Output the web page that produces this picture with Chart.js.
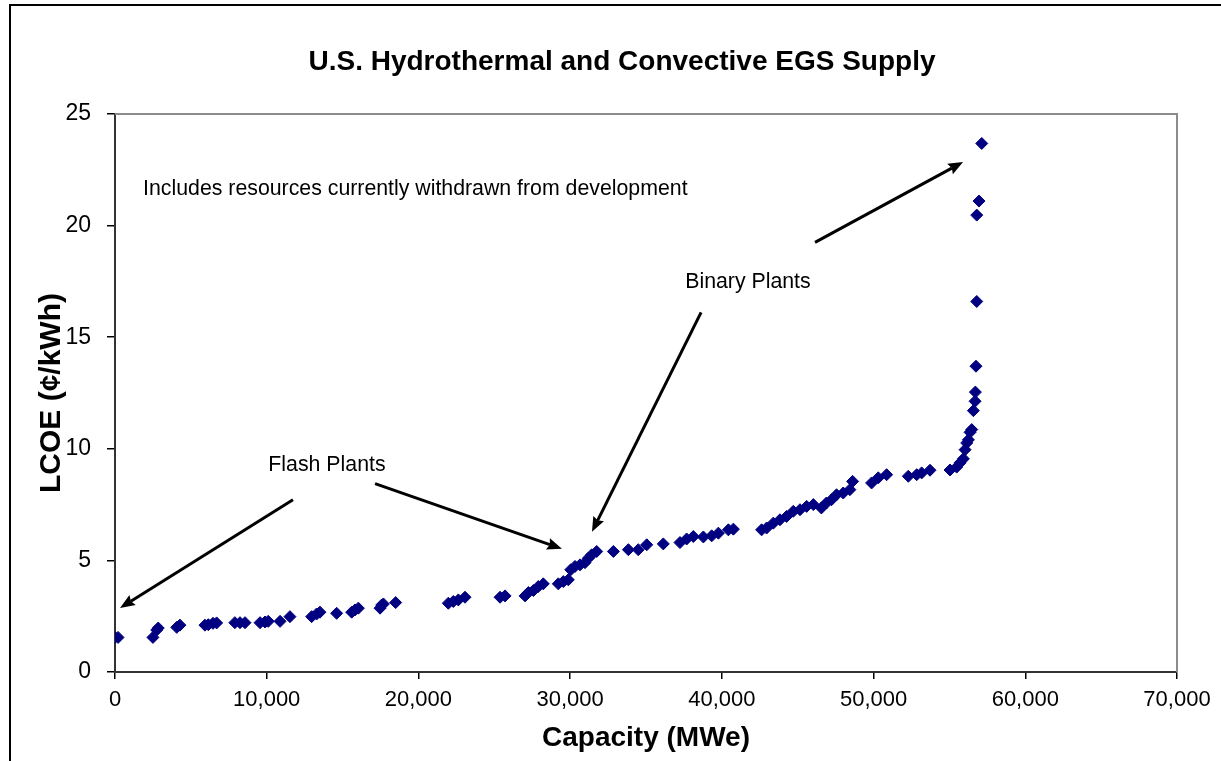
<!DOCTYPE html>
<html>
<head>
<meta charset="utf-8">
<script src="https://cdn.jsdelivr.net/npm/chart.js@4"></script>
<style>
  html, body { margin: 0; padding: 0; background: #fff; }
  #wrap { width: 1221px; height: 761px; position: relative; }
</style>
</head>
<body>
<div id="wrap"><canvas id="supplyChart"></canvas></div>
<script>
// dados
const chartTitle = 'U.S. Hydrothermal and Convective EGS Supply';
const xTitle = 'Capacity (MWe)';
const yTitle = 'LCOE (\u00A2/kWh)';

const capacity = [
  0, 200, 2500, 2750, 2850, 4070, 4280, 5930, 6150, 6460,
  6700, 7900, 8240, 8570, 9560, 9890, 10100, 10880, 11530, 12960,
  13290, 13510, 14610, 15600, 15820, 16040, 17470, 17580, 17690, 18500,
  21970, 22300, 22630, 23070, 25380, 25710, 27030, 27250, 27580, 27900,
  28230, 29220, 29550, 29880, 30040, 30320, 30650, 30980, 31200, 31420,
  31750, 32850, 33840, 34490, 35050, 36140, 37240, 37680, 38120, 38780,
  39330, 39770, 40430, 40760, 42620, 42950, 43390, 43830, 44270, 44710,
  45150, 45590, 46030, 46560, 46890, 47230, 47560, 48000, 48440, 48620,
  49870, 50310, 50860, 52290, 52840, 53170, 53720, 55040, 55480, 55700,
  55920, 56030, 56140, 56250, 56360, 56470, 56580, 56690, 56710, 56750,
  56800, 56800, 56950, 57130
];
const lcoe = [
  1.55, 1.55, 1.55, 1.88, 1.97, 2.0, 2.1, 2.1, 2.12, 2.18,
  2.2, 2.21, 2.21, 2.21, 2.21, 2.24, 2.27, 2.27, 2.48, 2.48,
  2.6, 2.68, 2.63, 2.68, 2.78, 2.86, 2.86, 3.0, 3.05, 3.11,
  3.08, 3.16, 3.23, 3.35, 3.35, 3.41, 3.41, 3.56, 3.65, 3.83,
  3.95, 3.95, 4.05, 4.13, 4.58, 4.73, 4.8, 4.9, 5.1, 5.25,
  5.4, 5.4, 5.48, 5.48, 5.7, 5.74, 5.8, 5.96, 6.07, 6.05,
  6.1, 6.22, 6.37, 6.4, 6.37, 6.45, 6.67, 6.82, 6.97, 7.2,
  7.27, 7.42, 7.5, 7.35, 7.57, 7.72, 7.94, 8.02, 8.17, 8.54,
  8.47, 8.7, 8.84, 8.77, 8.84, 8.92, 9.04, 9.05, 9.18, 9.37,
  9.55, 9.96, 10.26, 10.4, 10.74, 10.86, 11.71, 12.13, 12.54, 13.7,
  16.6, 20.47, 21.1, 23.68
];

const xTicks = [0, 10000, 20000, 30000, 40000, 50000, 60000, 70000];
const yTicks = [0, 5, 10, 15, 20, 25];

// textos e setas (em coordenadas dos dados)
const notes = [
  { text: 'Includes resources currently withdrawn from development', x: 1850, y: 21.63, align: 'left' },
  { text: 'Binary Plants', x: 41720, y: 17.46, align: 'center' },
  { text: 'Flash Plants', x: 13970, y: 9.29, align: 'center' }
];
const arrows = [
  { from: [11730, 7.72], to: [330, 2.87] },
  { from: [17140, 8.44], to: [29460, 5.52] },
  { from: [38630, 16.11], to: [31440, 6.28] },
  { from: [46140, 19.25], to: [55900, 22.85] }
];

const points = capacity.map((c, i) => ({ x: c, y: lcoe[i] }));

const FONT = 'Arial, "Liberation Sans", sans-serif';

const decorPlugin = {
  id: 'decor',
  afterDraw(chart) {
    const { ctx, chartArea, scales } = chart;
    const xs = scales.x, ys = scales.y;
    ctx.save();

    // moldura externa
    ctx.strokeStyle = '#000';
    ctx.lineWidth = 2;
    ctx.beginPath();
    ctx.moveTo(1221, 5);
    ctx.lineTo(10, 5);
    ctx.lineTo(10, 761);
    ctx.stroke();

    // borda cinza do gráfico (topo e direita)
    ctx.strokeStyle = '#8c8c8c';
    ctx.lineWidth = 2;
    ctx.beginPath();
    ctx.moveTo(chartArea.left, chartArea.top);
    ctx.lineTo(chartArea.right, chartArea.top);
    ctx.lineTo(chartArea.right, chartArea.bottom);
    ctx.stroke();

    // título
    ctx.fillStyle = '#000';
    ctx.font = 'bold 28px ' + FONT;
    ctx.textAlign = 'center';
    ctx.textBaseline = 'middle';
    ctx.fillText(chartTitle, 622, 62);

    // anotações
    ctx.font = '21.3px ' + FONT;
    notes.forEach(n => {
      ctx.textAlign = n.align;
      ctx.fillText(n.text, xs.getPixelForValue(n.x), ys.getPixelForValue(n.y));
    });

    // setas
    ctx.strokeStyle = '#000';
    ctx.fillStyle = '#000';
    ctx.lineWidth = 3;
    arrows.forEach(a => {
      const x1 = xs.getPixelForValue(a.from[0]), y1 = ys.getPixelForValue(a.from[1]);
      const x2 = xs.getPixelForValue(a.to[0]), y2 = ys.getPixelForValue(a.to[1]);
      const ang = Math.atan2(y2 - y1, x2 - x1);
      const head = 16, half = 0.38;
      const bx = x2 - head * 0.8 * Math.cos(ang), by = y2 - head * 0.8 * Math.sin(ang);
      ctx.beginPath();
      ctx.moveTo(x1, y1);
      ctx.lineTo(bx, by);
      ctx.stroke();
      ctx.beginPath();
      ctx.moveTo(x2, y2);
      ctx.lineTo(x2 - head * Math.cos(ang - half), y2 - head * Math.sin(ang - half));
      ctx.lineTo(bx, by);
      ctx.lineTo(x2 - head * Math.cos(ang + half), y2 - head * Math.sin(ang + half));
      ctx.closePath();
      ctx.fill();
    });
    ctx.restore();
  }
};

const ctx = document.getElementById('supplyChart');
new Chart(ctx, {
  type: 'scatter',
  data: {
    datasets: [{
      label: 'Supply',
      data: points,
      pointStyle: 'rectRot',
      pointRadius: 6,
      backgroundColor: '#000080',
      borderColor: '#000080',
      borderWidth: 1
    }]
  },
  options: {
    responsive: true,
    maintainAspectRatio: false,
    animation: false,
    layout: { padding: { top: 114, right: 44, left: 0, bottom: 0 } },
    plugins: {
      legend: { display: false },
      tooltip: { enabled: false }
    },
    scales: {
      x: {
        type: 'linear',
        min: 0, max: 70000,
        afterBuildTicks: s => { s.ticks = xTicks.map(v => ({ value: v })); },
        afterFit: s => { s.height = 89; },
        ticks: {
          color: '#000',
          font: { family: FONT, size: 22 },
          padding: 8,
          maxRotation: 0,
          callback: v => v.toLocaleString('en-US')
        },
        grid: { drawOnChartArea: false, drawTicks: true, tickLength: 7, color: '#000', lineWidth: 1.5 },
        border: { color: '#333', width: 2 },
        title: { display: true, text: xTitle, color: '#000', font: { family: FONT, size: 28, weight: 'bold' }, padding: { top: 0, bottom: 6 } }
      },
      y: {
        type: 'linear',
        min: 0, max: 25,
        afterBuildTicks: s => { s.ticks = yTicks.map(v => ({ value: v })); },
        afterFit: s => { s.width = 115; },
        ticks: {
          color: '#000',
          font: { family: FONT, size: 23 },
          padding: 16
        },
        grid: { drawOnChartArea: false, drawTicks: true, tickLength: 8, color: '#000', lineWidth: 1.5 },
        border: { color: '#333', width: 2 },
        title: { display: true, text: yTitle, color: '#000', font: { family: FONT, size: 30, weight: 'bold' }, padding: { top: 34, bottom: 0 } }
      }
    }
  },
  plugins: [decorPlugin]
});
</script>
</body>
</html>
